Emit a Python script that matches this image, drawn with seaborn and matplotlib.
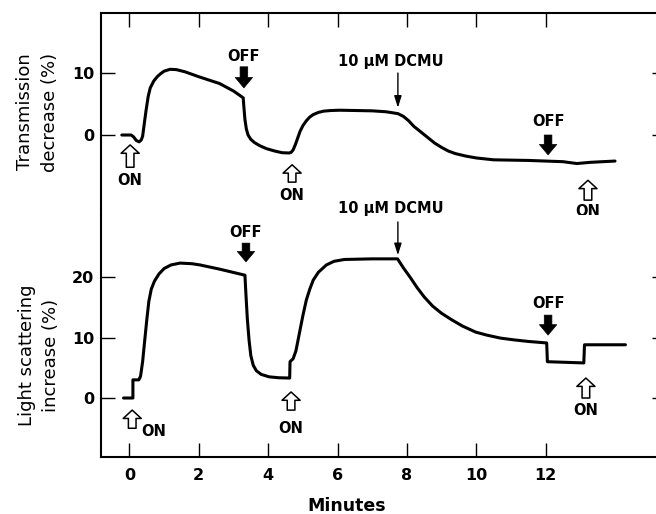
import matplotlib
matplotlib.use("Agg")
import matplotlib.pyplot as plt
import seaborn as sns
import pandas as pd

# ---- data (time in minutes, response in %) ----
trans_t = [-0.22, 0.05, 0.12, 0.2, 0.28, 0.34, 0.38, 0.42, 0.48, 0.54, 0.6, 0.7, 0.8, 0.9,
           1.0, 1.17, 1.35, 1.6, 2.0, 2.6, 3.0, 3.28,
           3.3, 3.33, 3.37, 3.42, 3.5, 3.6, 3.75, 3.95, 4.2, 4.4, 4.6, 4.66, 4.72, 4.78,
           4.85, 4.92, 5.0, 5.1, 5.2, 5.3, 5.45, 5.6, 5.8, 6.06,
           7.0, 7.4, 7.74, 7.9, 8.05, 8.2, 8.4, 8.6, 8.8, 9.0, 9.2, 9.4, 9.7, 10.0, 10.5,
           11.5, 12.0, 12.5, 12.9, 13.3, 14.0]
trans_v = [0.0, 0.0, -0.3, -0.9, -1.1, -0.8, -0.2, 1.5, 4.0, 6.2, 7.6, 8.7, 9.4, 9.9,
           10.3, 10.6, 10.55, 10.2, 9.4, 8.3, 7.1, 6.0,
           4.5, 2.5, 1.0, 0.0, -0.7, -1.2, -1.7, -2.2, -2.6, -2.85, -2.9, -2.8, -2.4, -1.6,
           -0.5, 0.6, 1.5, 2.3, 2.9, 3.3, 3.65, 3.85, 3.95, 4.0,
           3.9, 3.75, 3.45, 3.0, 2.3, 1.4, 0.5, -0.4, -1.3, -2.0, -2.6, -3.0, -3.4, -3.7, -4.0,
           -4.1, -4.2, -4.3, -4.6, -4.4, -4.2]

scat_t = [-0.17, 0.1, 0.1, 0.27, 0.32, 0.38, 0.44, 0.5, 0.56, 0.63, 0.72, 0.85, 1.0, 1.2,
          1.46, 1.8, 2.03, 2.6, 3.33,
          3.36, 3.4, 3.45, 3.5, 3.57, 3.66, 3.8, 4.03, 4.3, 4.62, 4.63, 4.72, 4.8, 4.9, 5.0,
          5.1, 5.2, 5.3, 5.45, 5.68, 5.9, 6.2, 7.0, 7.73,
          7.9, 8.1, 8.3, 8.5, 8.74, 9.0, 9.3, 9.6, 9.98, 10.3, 10.7, 11.1, 11.5, 12.03,
          12.05, 13.1, 13.12, 14.3]
scat_v = [0.0, 0.0, 3.0, 3.0, 3.6, 6.0, 9.5, 12.9, 16.0, 18.0, 19.3, 20.5, 21.4, 22.0,
          22.3, 22.2, 22.0, 21.3, 20.3,
          17.0, 13.0, 9.5, 7.0, 5.4, 4.5, 3.9, 3.5, 3.35, 3.3, 6.0, 6.5, 7.8, 10.7, 13.6,
          16.2, 18.0, 19.5, 20.8, 22.0, 22.6, 22.9, 23.0, 23.0,
          21.5, 19.9, 18.2, 16.7, 15.2, 14.0, 12.9, 11.9, 10.9, 10.4, 9.9, 9.6, 9.35, 9.1,
          6.0, 5.8, 8.8, 8.8]

x_ticks = [0, 2, 4, 6, 8, 10, 12]
top_yticks = [0, 10]
bot_yticks = [0, 10, 20]

# annotation positions: (time, text y, arrow base y, arrow tip y)
top_on = [(0.02, -7.3, -5.2, -1.6), (4.69, -9.7, -7.6, -4.8), (13.22, -12.4, -10.5, -7.3)]
top_off = [(3.30, 12.6, 11.0, 7.6), (12.07, 2.1, 0.0, -3.2)]
top_dcmu = (7.54, 11.8, 7.74, 10.0, 4.4)
bot_on = [(0.08, -5.6, -5.0, -2.0), (4.66, -5.0, -2.0, 1.0), (13.16, -2.0, 0.0, 3.3)]
bot_off = [(3.36, 27.4, 25.6, 22.5), (12.07, 15.7, 13.7, 10.4)]
bot_dcmu = (7.54, 31.4, 7.74, 29.1, 23.6)

sns.set_style("white")
plt.rcParams["font.family"] = ["DejaVu Sans"]
plt.rcParams["text.color"] = "black"
plt.rcParams["axes.labelcolor"] = "black"
plt.rcParams["xtick.color"] = "black"
plt.rcParams["ytick.color"] = "black"

W, H = 656, 514
fig = plt.figure(figsize=(W / 100, H / 100), dpi=100)

left_px, right_px = 101, 666
top_px, mid_px, bot_px = 13, 215, 457
ax_t = fig.add_axes([left_px / W, 1 - mid_px / H, (right_px - left_px) / W, (mid_px - top_px) / H])
ax_b = fig.add_axes([left_px / W, 1 - bot_px / H, (right_px - left_px) / W, (bot_px - mid_px) / H])

df_t = pd.DataFrame({"t": trans_t, "v": trans_v})
df_b = pd.DataFrame({"t": scat_t, "v": scat_v})
sns.lineplot(data=df_t, x="t", y="v", ax=ax_t, sort=False, estimator=None, color="black", lw=2.2)
sns.lineplot(data=df_b, x="t", y="v", ax=ax_b, sort=False, estimator=None, color="black", lw=2.2)

xlim = (-0.82, 15.47)
ax_t.set_xlim(*xlim)
ax_b.set_xlim(*xlim)
ax_t.set_ylim(-12.9, 19.68)
ax_b.set_ylim(-9.75, 30.25)

for ax in (ax_t, ax_b):
    for s in ax.spines.values():
        s.set_linewidth(1.5)
        s.set_color("black")
    ax.set_xticks(x_ticks)
    ax.tick_params(axis="both", direction="in", length=10, width=1.0, color="black",
                   labelcolor="black", labelsize=11.5, pad=5)
    ax.tick_params(axis="y", left=True, right=True)
    ax.set_xlabel("")
    ax.set_ylabel("")

ax_t.spines["bottom"].set_visible(False)
ax_b.spines["top"].set_visible(False)
ax_t.tick_params(axis="x", top=True, bottom=False, labelbottom=False, labeltop=False)
ax_b.tick_params(axis="x", top=False, bottom=True, labelbottom=True, pad=8)
ax_t.set_yticks(top_yticks)
ax_b.set_yticks(bot_yticks)
for lab in ax_t.get_yticklabels() + ax_b.get_yticklabels() + ax_b.get_xticklabels():
    lab.set_fontweight("bold")

ax_b.set_xlabel("Minutes", fontsize=12.5, fontweight="bold", color="black")
ax_b.xaxis.set_label_coords((347 - left_px) / (right_px - left_px), -0.165)

ax_t.set_ylabel("Transmission\ndecrease (%)", fontsize=13, linespacing=1.45, color="black")
ax_t.yaxis.set_label_coords(-0.075, 0.51)
ax_b.set_ylabel("Light scattering\nincrease (%)", fontsize=13, linespacing=1.45, color="black")
ax_b.yaxis.set_label_coords(-0.072, 0.42)

txt_kw = dict(ha="center", va="center", fontsize=10.5, fontweight="bold", color="black")
open_arrow = dict(arrowstyle="simple,head_length=0.6,head_width=1.3,tail_width=0.55",
                  fc="white", ec="black", lw=1.1, shrinkA=0, shrinkB=0, mutation_scale=10)
fill_arrow = dict(arrowstyle="simple,head_length=0.75,head_width=1.25,tail_width=0.55",
                  fc="black", ec="black", lw=0.5, shrinkA=0, shrinkB=0, mutation_scale=10)
thin_arrow = dict(arrowstyle="-|>,head_length=0.7,head_width=0.22", fc="black", ec="black",
                  lw=1.0, shrinkA=0, shrinkB=0, mutation_scale=10)


def annotate(ax, ons, offs, dcmu, on_first_dx=0.0):
    for i, (t, ty, by, tipy) in enumerate(ons):
        ax.annotate("", xy=(t, tipy), xytext=(t, by), arrowprops=open_arrow)
        dx = on_first_dx if i == 0 else 0.0
        ax.text(t + dx, ty, "ON", **txt_kw)
    for t, ty, by, tipy in offs:
        ax.annotate("", xy=(t, tipy), xytext=(t, by), arrowprops=fill_arrow)
        ax.text(t, ty, "OFF", **txt_kw)
    tx, ty, ax_x, by, tipy = dcmu
    ax.text(tx, ty, "10 μM DCMU", **txt_kw)
    ax.annotate("", xy=(ax_x, tipy), xytext=(ax_x, by), arrowprops=thin_arrow)


annotate(ax_t, top_on, top_off, top_dcmu)
annotate(ax_b, bot_on, bot_off, bot_dcmu, on_first_dx=0.61)

fig.savefig("out.png", dpi=100)
